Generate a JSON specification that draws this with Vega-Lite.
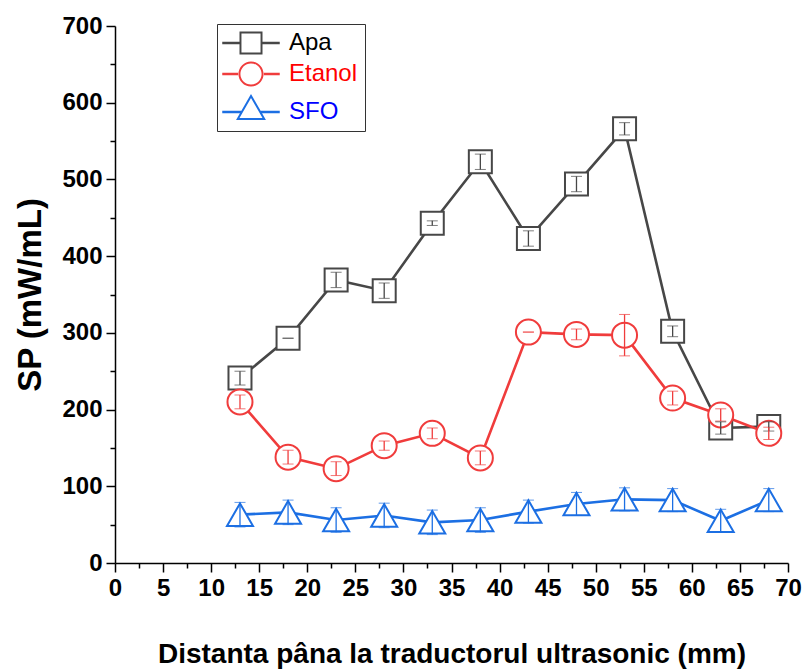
{
  "$schema": "https://vega.github.io/schema/vega-lite/v6.json",
  "autosize": "none",
  "padding": {"left": 115, "top": 26, "right": 19, "bottom": 108},
  "width": 673,
  "height": 537,
  "background": "white",
  "config": {
    "font": "Liberation Sans",
    "view": {"stroke": null},
    "axis": {"grid": false, "domainColor": "black", "tickColor": "black", "domainWidth": 1.5, "tickWidth": 1.5, "labelColor": "black", "titleColor": "black", "labelFont": "Liberation Sans", "titleFont": "Liberation Sans", "labelFontWeight": "bold", "titleFontWeight": "bold", "labelFontSize": 24}
  },
  "data": {"values": [
    {"series": "Apa", "x": 13, "y": 241, "err": 9},
    {"series": "Apa", "x": 18, "y": 293, "err": 0},
    {"series": "Apa", "x": 23, "y": 369, "err": 10},
    {"series": "Apa", "x": 28, "y": 355, "err": 10},
    {"series": "Apa", "x": 33, "y": 443, "err": 3},
    {"series": "Apa", "x": 38, "y": 523, "err": 10},
    {"series": "Apa", "x": 43, "y": 423, "err": 10},
    {"series": "Apa", "x": 48, "y": 494, "err": 10},
    {"series": "Apa", "x": 53, "y": 566, "err": 8},
    {"series": "Apa", "x": 58, "y": 302, "err": 7},
    {"series": "Apa", "x": 63, "y": 176, "err": 8},
    {"series": "Apa", "x": 68, "y": 178, "err": 6},
    {"series": "Etanol", "x": 13, "y": 210, "err": 9},
    {"series": "Etanol", "x": 18, "y": 138, "err": 9},
    {"series": "Etanol", "x": 23, "y": 123, "err": 9},
    {"series": "Etanol", "x": 28, "y": 153, "err": 6},
    {"series": "Etanol", "x": 33, "y": 169, "err": 7},
    {"series": "Etanol", "x": 38, "y": 137, "err": 9},
    {"series": "Etanol", "x": 43, "y": 301, "err": 0},
    {"series": "Etanol", "x": 48, "y": 298, "err": 7},
    {"series": "Etanol", "x": 53, "y": 297, "err": 27},
    {"series": "Etanol", "x": 58, "y": 215, "err": 9},
    {"series": "Etanol", "x": 63, "y": 193, "err": 8},
    {"series": "Etanol", "x": 68, "y": 169, "err": 8},
    {"series": "SFO", "x": 13, "y": 63, "err": 16},
    {"series": "SFO", "x": 18, "y": 66, "err": 16},
    {"series": "SFO", "x": 23, "y": 56, "err": 16},
    {"series": "SFO", "x": 28, "y": 62, "err": 16},
    {"series": "SFO", "x": 33, "y": 53, "err": 16},
    {"series": "SFO", "x": 38, "y": 56, "err": 16},
    {"series": "SFO", "x": 43, "y": 67, "err": 15},
    {"series": "SFO", "x": 48, "y": 77, "err": 15},
    {"series": "SFO", "x": 53, "y": 83, "err": 15},
    {"series": "SFO", "x": 58, "y": 82, "err": 15},
    {"series": "SFO", "x": 63, "y": 55, "err": 15},
    {"series": "SFO", "x": 68, "y": 82, "err": 15}
  ]},
  "encoding": {
    "x": {"field": "x", "type": "quantitative", "scale": {"domain": [0, 70], "nice": false},
      "axis": {"title": "Distanta pâna la traductorul ultrasonic (mm)", "titleFontSize": 28, "titlePadding": 40, "values": [0,2.5,5,7.5,10,12.5,15,17.5,20,22.5,25,27.5,30,32.5,35,37.5,40,42.5,45,47.5,50,52.5,55,57.5,60,62.5,65,67.5,70],
        "labelExpr": "datum.value % 5 === 0 ? datum.label : ''",
        "tickSize": {"condition": {"test": "datum.value % 5 === 0", "value": 9}, "value": 5},
        "labelPadding": 4, "labelFlush": false, "labelOverlap": false}},
    "y": {"field": "y", "type": "quantitative", "scale": {"domain": [0, 700], "nice": false},
      "axis": {"title": "SP (mW/mL)", "titleFontSize": 33, "titlePadding": 14, "values": [0,50,100,150,200,250,300,350,400,450,500,550,600,650,700],
        "labelExpr": "datum.value % 100 === 0 ? datum.label : ''",
        "tickSize": {"condition": {"test": "datum.value % 100 === 0", "value": 9}, "value": 5},
        "labelPadding": 4, "labelFlush": false, "labelOverlap": false}}
  },
  "layer": [
    {"mark": {"type": "line", "strokeWidth": 2.6},
      "encoding": {
        "color": {"field": "series", "type": "nominal",
          "scale": {"domain": ["Apa", "Etanol", "SFO"], "range": ["#474747", "#f03c3c", "#1c6fe3"]},
          "legend": {"orient": "none", "legendX": 102, "legendY": -2, "title": null, "strokeColor": "#333333", "padding": 7, "labelFontSize": 24, "labelFont": "Liberation Sans", "labelFontWeight": "normal", "symbolSize": 529, "symbolStrokeWidth": 0, "rowPadding": 6, "symbolOffset": 15, "labelOffset": 26,
            "labelColor": {"expr": "datum.value === 'Apa' ? '#000000' : datum.value === 'Etanol' ? '#ff0000' : '#0000ff'"},
            "symbolType": {"expr": "datum.value === 'Apa' ? 'M-1,-1H1V1H-1ZM-0.83,-0.83V0.83H0.83V-0.83ZM-2.5,-0.1H-0.95V0.1H-2.5ZM0.95,-0.1H2.5V0.1H0.95Z' : datum.value === 'Etanol' ? 'M-1.09,0A1.09,1.09 0 1,0 1.09,0A1.09,1.09 0 1,0 -1.09,0ZM-0.92,0A0.92,0.92 0 1,1 0.92,0A0.92,0.92 0 1,1 -0.92,0ZM-2.5,-0.1H-1.05V0.1H-2.5ZM1.05,-0.1H2.5V0.1H1.05Z' : 'M0,-1.57L1.3,0.7H-1.3ZM0,-1.22L-1,0.526H1ZM-2.5,-0.1H-0.85V0.1H-2.5ZM0.85,-0.1H2.5V0.1H0.85Z'"}
          }}
      }},
    {"transform": [{"filter": "datum.series === 'Apa'"}],
      "mark": {"type": "point", "shape": "square", "size": 529, "filled": false, "fill": "white", "fillOpacity": 1, "strokeWidth": 2, "opacity": 1},
      "encoding": {"color": {"field": "series", "type": "nominal", "legend": null}}},
    {"transform": [{"filter": "datum.series === 'Etanol'"}],
      "mark": {"type": "point", "shape": "circle", "size": 625, "filled": false, "fill": "white", "fillOpacity": 1, "strokeWidth": 2, "opacity": 1},
      "encoding": {"color": {"field": "series", "type": "nominal", "legend": null}}},
    {"transform": [{"filter": "datum.series === 'SFO'"}],
      "mark": {"type": "point", "shape": "triangle-up", "size": 676, "filled": false, "fill": "white", "fillOpacity": 1, "strokeWidth": 2, "opacity": 1},
      "encoding": {"color": {"field": "series", "type": "nominal", "legend": null}}},
    {"mark": {"type": "errorbar", "ticks": {"size": 11, "strokeWidth": 1.3}, "rule": {"strokeWidth": 1.3}},
      "encoding": {
        "color": {"field": "series", "type": "nominal", "legend": null},
        "yError": {"field": "err"}
      }}
  ]
}
